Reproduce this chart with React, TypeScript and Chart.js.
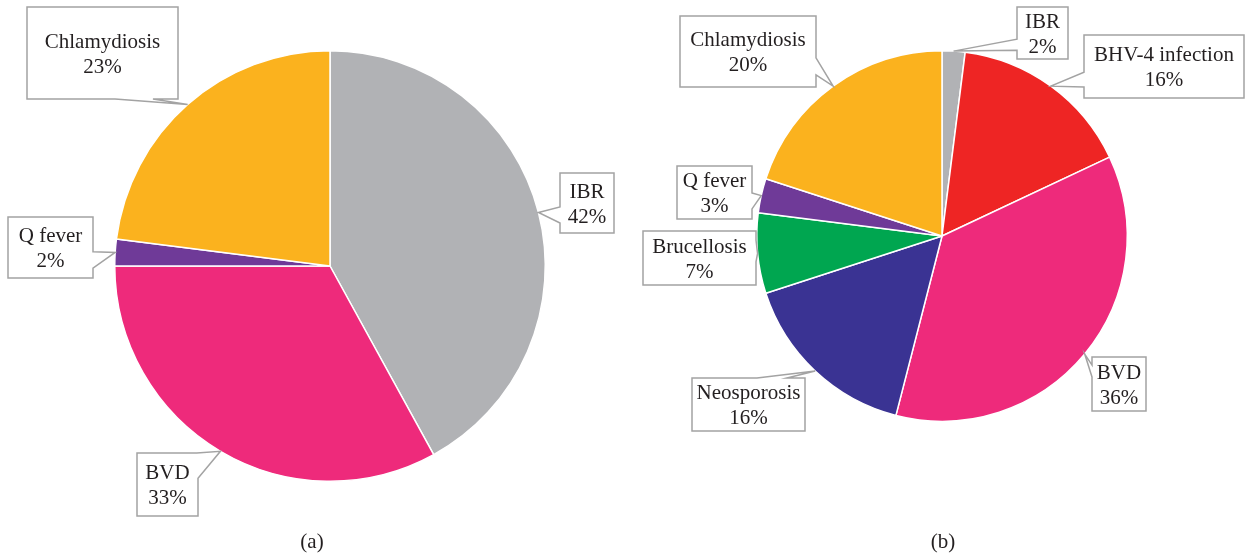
import React, { useEffect, useRef } from "react";
import { Chart, registerables } from "chart.js";

Chart.register(...registerables);

// ---------- data ----------
const categoriesA = ["IBR", "BVD", "Q fever", "Chlamydiosis"];
const valuesA = [42, 33, 2, 23];
const colorsA = ["#B1B2B5", "#EE2A7B", "#6F3A98", "#FBB21E"];

const categoriesB = [
  "IBR",
  "BHV-4 infection",
  "BVD",
  "Neosporosis",
  "Brucellosis",
  "Q fever",
  "Chlamydiosis",
];
const valuesB = [2, 16, 36, 16, 7, 3, 20];
const colorsB = ["#B1B2B5", "#EE2524", "#EE2A7B", "#3A3393", "#00A650", "#6F3A98", "#FBB21E"];

const captionA = "(a)";
const captionB = "(b)";

// ---------- layout (page coordinates) ----------
// box: x, y, w, h ; tail: perimeter positions t1, t2 (0..4 clockwise from top-left)
const boxesA = [
  { x: 560, y: 173, w: 54, h: 60, t1: 3.167, t2: 3.433 },
  { x: 137, y: 453, w: 61, h: 63, t1: 0.98, t2: 1.4 },
  { x: 8, y: 217, w: 85, h: 61, t1: 1.57, t2: 1.84 },
  { x: 27, y: 7, w: 151, h: 92, t1: 2.166, t2: 2.417 },
];
const boxesB = [
  { x: 1017, y: 7, w: 51, h: 52, t1: 3.17, t2: 3.38 },
  { x: 1084, y: 35, w: 160, h: 63, t1: 3.175, t2: 3.41 },
  { x: 1092, y: 357, w: 54, h: 54, t1: 3.63, t2: 3.85 },
  { x: 692, y: 378, w: 113, h: 53, t1: 0.575, t2: 0.84 },
  { x: 643, y: 231, w: 113, h: 54, t1: 1.17, t2: 1.57 },
  { x: 677, y: 166, w: 75, h: 53, t1: 1.51, t2: 1.81 },
  { x: 680, y: 16, w: 136, h: 71, t1: 1.59, t2: 1.83 },
];

const FONT = '21px "Liberation Serif", "DejaVu Serif", serif';
const TEXT_COLOR = "#231F20";
const BOX_COLOR = "#A3A3A3";

type Box = { x: number; y: number; w: number; h: number; t1: number; t2: number };

function perim(b: Box, tt: number) {
  const t = ((tt % 4) + 4) % 4;
  if (t < 1) return [b.x + t * b.w, b.y];
  if (t < 2) return [b.x + b.w, b.y + (t - 1) * b.h];
  if (t < 3) return [b.x + b.w - (t - 2) * b.w, b.y + b.h];
  return [b.x, b.y + b.h - (t - 3) * b.h];
}

function makeCalloutPlugin(
  labels: string[],
  values: number[],
  boxes: Box[],
  offsetX: number,
  caption: string,
  captionX: number,
  captionY: number
) {
  return {
    id: "callouts",
    afterDatasetsDraw(chart: any) {
      const ctx = chart.ctx as CanvasRenderingContext2D;
      const meta = chart.getDatasetMeta(0);
      ctx.save();
      meta.data.forEach((arc: any, i: number) => {
        const p = arc.getProps(["x", "y", "startAngle", "endAngle", "outerRadius"], true);
        const mid = (p.startAngle + p.endAngle) / 2;
        const tip = [p.x + p.outerRadius * Math.cos(mid), p.y + p.outerRadius * Math.sin(mid)];
        const bp = boxes[i];
        const b = { ...bp, x: bp.x - offsetX };
        const a1 = perim(b, b.t1);
        const a2 = perim(b, b.t2);
        ctx.beginPath();
        ctx.moveTo(a1[0], a1[1]);
        ctx.lineTo(tip[0], tip[1]);
        ctx.lineTo(a2[0], a2[1]);
        const end = b.t1 + 4;
        for (let k = Math.floor(b.t2) + 1; k < end; k++) {
          const c = perim(b, k);
          ctx.lineTo(c[0], c[1]);
        }
        ctx.closePath();
        ctx.fillStyle = "#FFFFFF";
        ctx.fill();
        ctx.lineWidth = 1.5;
        ctx.strokeStyle = BOX_COLOR;
        ctx.lineJoin = "miter";
        ctx.stroke();

        ctx.fillStyle = TEXT_COLOR;
        ctx.font = FONT;
        ctx.textAlign = "center";
        ctx.textBaseline = "middle";
        const cx = b.x + b.w / 2;
        const cy = b.y + b.h / 2;
        ctx.fillText(labels[i], cx, cy - 11);
        ctx.fillText(values[i] + "%", cx, cy + 14);
      });
      ctx.fillStyle = TEXT_COLOR;
      ctx.font = FONT;
      ctx.textAlign = "center";
      ctx.textBaseline = "middle";
      ctx.fillText(caption, captionX, captionY);
      ctx.restore();
    },
  };
}

function PieCanvas(props: {
  labels: string[];
  values: number[];
  colors: string[];
  boxes: Box[];
  left: number;
  width: number;
  padding: { left: number; right: number; top: number; bottom: number };
  caption: string;
  captionX: number;
}) {
  const ref = useRef<HTMLCanvasElement | null>(null);
  useEffect(() => {
    if (!ref.current) return;
    const chart = new Chart(ref.current, {
      type: "pie",
      data: {
        labels: props.labels,
        datasets: [
          {
            data: props.values,
            backgroundColor: props.colors,
            borderColor: "#FFFFFF",
            borderWidth: 1.5,
            hoverOffset: 0,
          },
        ],
      },
      options: {
        responsive: false,
        animation: false,
        events: [],
        layout: { padding: props.padding },
        plugins: {
          legend: { display: false },
          tooltip: { enabled: false },
        },
      },
      plugins: [
        makeCalloutPlugin(
          props.labels,
          props.values,
          props.boxes,
          props.left,
          props.caption,
          props.captionX - props.left,
          542
        ) as any,
      ],
    });
    return () => chart.destroy();
  }, []);
  return (
    <canvas
      ref={ref}
      width={props.width}
      height={553}
      style={{ position: "absolute", left: props.left, top: 0, width: props.width, height: 553 }}
    />
  );
}

export default function App() {
  return (
    <div style={{ position: "absolute", left: 0, top: 0, width: 1245, height: 553, background: "#fff" }}>
      <PieCanvas
        labels={categoriesA}
        values={valuesA}
        colors={colorsA}
        boxes={boxesA}
        left={0}
        width={622}
        padding={{ left: 114, right: 76, top: 50, bottom: 71 }}
        caption={captionA}
        captionX={312}
      />
      <PieCanvas
        labels={categoriesB}
        values={valuesB}
        colors={colorsB}
        boxes={boxesB}
        left={622}
        width={623}
        padding={{ left: 134, right: 117, top: 50, bottom: 131 }}
        caption={captionB}
        captionX={943}
      />
    </div>
  );
}
